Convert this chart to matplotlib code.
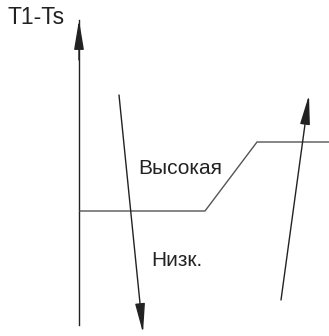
import matplotlib
matplotlib.use("Agg")
import matplotlib.pyplot as plt

plt.rcParams['font.family'] = ['Liberation Sans', 'DejaVu Sans']

# схема в пикселях картинки (y вниз)
os_x = [79, 79]
os_y = [325, 20]

# линия порога
porog_x = [80, 205, 257, 329]
porog_y = [211, 211, 142, 142]

# стрелки: (начало, конец)
strelka_vniz = [(119, 95), (143, 333)]
strelka_vverh = [(281, 300), (309, 95)]

podpisi = ['T1-Ts', 'Высокая', 'Низк.']
podpisi_xy = [(7, 18), (180, 168), (177, 260)]
razmery = [16.5, 15, 15]

fig = plt.figure(figsize=(3.29, 3.36), dpi=100)
ax = fig.add_axes([0, 0, 1, 1])
ax.set_xlim(0, 329)
ax.set_ylim(336, 0)
ax.axis('off')

stil = dict(arrowstyle='-|>,head_length=1.8,head_width=0.3',
            mutation_scale=10, color='#222222', lw=1.0,
            shrinkA=0, shrinkB=0)

# ось
ax.plot(os_x, os_y, color='#222222', lw=1.0)
ax.annotate('', xy=(os_x[1], os_y[1]), xytext=(os_x[1], os_y[1] + 40),
            arrowprops=stil)

ax.plot(porog_x, porog_y, color='#555555', lw=1.0)

for s in [strelka_vniz, strelka_vverh]:
    ax.annotate('', xy=s[1], xytext=s[0], arrowprops=stil)

ax.text(podpisi_xy[0][0], podpisi_xy[0][1], podpisi[0], fontsize=razmery[0],
        ha='left', va='center', color='#222222')
for t, (x, y), r in zip(podpisi[1:], podpisi_xy[1:], razmery[1:]):
    ax.text(x, y, t, fontsize=r, ha='center', va='center', color='#222222')

plt.savefig("out.png", dpi=100)
